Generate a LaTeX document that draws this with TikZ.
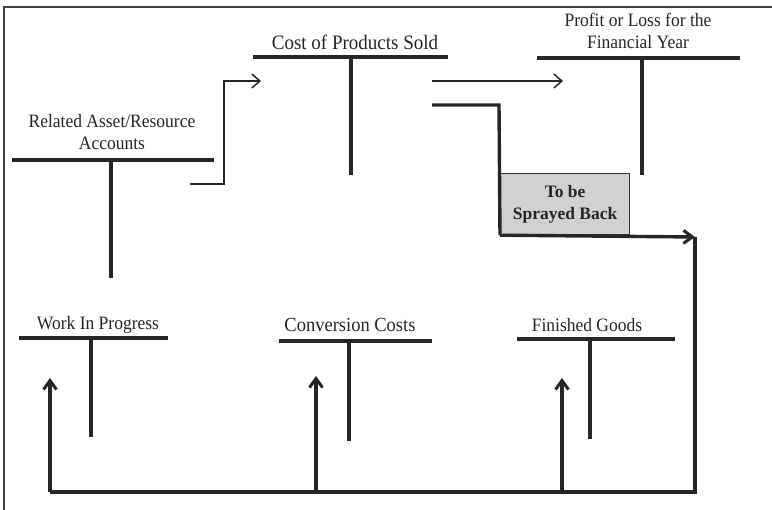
\documentclass[tikz,border=0pt]{standalone}
\usepackage{fontspec}
\setmainfont{Liberation Serif}
\usetikzlibrary{arrows.meta}
\begin{document}
\begin{tikzpicture}[x=1pt,y=-1pt,
  title/.style={font=\fontsize{17.5}{21}\selectfont, align=center, text=black!85, inner sep=0pt, yscale=1.08},
  bar/.style={line width=4pt, black!85},
  stem/.style={line width=3.2pt, black!85},
  thin/.style={line width=1.5pt, black!85, -{Straight Barb[length=8pt,width=14pt,line width=1.5pt]}},
  thick/.style={line width=3.4pt, black!85},
  thickarrow/.style={thick, -{Straight Barb[length=9pt,width=13pt,line width=3pt]}},
  frameline/.style={line width=1.8pt, black!75},
  sbox/.style={draw=black!80, line width=1.2pt, fill=black!18, minimum width=129pt, minimum height=61pt,
    font=\fontsize{17.5}{22}\selectfont\bfseries, align=center, text=black!85, inner sep=0pt}
]
\useasboundingbox (0,0) rectangle (772,510);
% frame
\draw[frameline] (4,510) -- (4,7) -- (772,7);

% titles
\node[title] (ra) at (112,132) {Related Asset/Resource\\Accounts};
\node[title, font=\fontsize{19}{22}\selectfont] (cps) at (355,42) {Cost of Products Sold};
\node[title] (pl) at (638,31) {Profit or Loss for the\\Financial Year};
\node[title] (wip) at (98,325) {Work In Progress};
\node[title, font=\fontsize{18.5}{22}\selectfont] (cc) at (350,325) {Conversion Costs};
\node[title] (fg) at (587,325) {Finished Goods};

% T accounts
\draw[bar] (12,160) -- (214,160);  \draw[stem] (111,160) -- (111,278);
\draw[bar] (253,57) -- (448,57);   \draw[stem] (351,57) -- (351,175);
\draw[bar] (537,58) -- (740,58);   \draw[stem] (642,58) -- (642,175);
\draw[bar] (19,338) -- (168,338);  \draw[stem] (91,338) -- (91,437);
\draw[bar] (279,341) -- (432,341); \draw[stem] (349,341) -- (349,441);
\draw[bar] (517,339) -- (675,339); \draw[stem] (590,339) -- (590,439);

% coordinates
\coordinate (a1) at (190,184);
\coordinate (a2) at (261,81);
\coordinate (b1) at (432,81);
\coordinate (b2) at (563,81);
\coordinate (c1) at (432,105);
\coordinate (corner) at (695,237);
\coordinate (bl) at (50,492);
\coordinate (wipin) at (50,378);
\coordinate (ccin) at (316,376);
\coordinate (fgin) at (562,378);

% box
\node[sbox, anchor=north west] (sb) at (500,173) {To be\\Sprayed Back};

% connectors
\draw[thin] (a1) -- (224,184) -- (224,81) -- (a2);
\draw[thin] (b1) -- (b2);
\draw[thick] (c1) -- (499,105) -- (sb.south west);
\draw[thickarrow] (sb.south west) -- (corner);
\draw[thick] (corner) -- (695,492) -- (bl);
\draw[thickarrow] (bl) -- (wipin);
\draw[thickarrow] (316,492) -- (ccin);
\draw[thickarrow] (562,492) -- (fgin);
\end{tikzpicture}
\end{document}
